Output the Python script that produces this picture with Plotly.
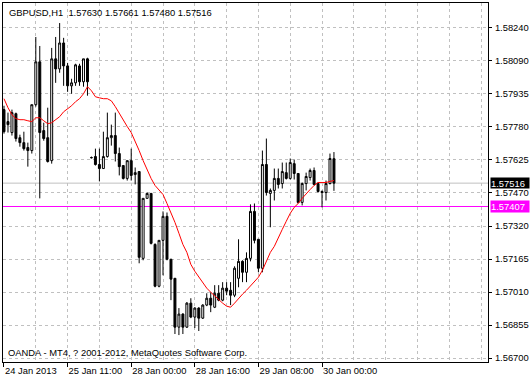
import plotly.graph_objects as go

# ---- data (GBPUSD H1) ----
bar_index = list(range(84))
opens = [1.57859, 1.57803, 1.57752, 1.57840, 1.57728, 1.57705, 1.57682, 1.57668, 1.57882, 1.58082,
         1.57761, 1.57728, 1.57621, 1.58096, 1.58049, 1.58170, 1.58063, 1.57970, 1.57984, 1.58063,
         1.57989, 1.58096, 1.57635, 1.57640, 1.57603, 1.57584, 1.57640, 1.57728, 1.57738, 1.57654,
         1.57598, 1.57538, 1.57621, 1.57556, 1.57570, 1.57165, 1.57445, 1.57468, 1.57230, 1.57035,
         1.57249, 1.57361, 1.57161, 1.57072, 1.56844, 1.56905, 1.56844, 1.56956, 1.56891, 1.56933,
         1.56886, 1.56947, 1.56979, 1.56937, 1.57002, 1.56970, 1.57026, 1.57016, 1.56993, 1.57072,
         1.57151, 1.57100, 1.57165, 1.57384, 1.57254, 1.57119, 1.57603, 1.57468, 1.57482, 1.57538,
         1.57514, 1.57565, 1.57538, 1.57607, 1.57561, 1.57426, 1.57514, 1.57542, 1.57575, 1.57514,
         1.57477, 1.57472, 1.57514, 1.57630]
highs = [1.57877, 1.57845, 1.57859, 1.57845, 1.57742, 1.57756, 1.57705, 1.57882, 1.58198, 1.58156,
         1.57798, 1.57868, 1.58147, 1.58198, 1.58263, 1.58194, 1.58077, 1.58003, 1.58073, 1.58073,
         1.58096, 1.58101, 1.57640, 1.57677, 1.57677, 1.57756, 1.57845, 1.57789, 1.57845, 1.57682,
         1.57598, 1.57621, 1.57677, 1.57589, 1.57570, 1.57445, 1.57472, 1.57468, 1.57235, 1.57249,
         1.57384, 1.57379, 1.57161, 1.57072, 1.56933, 1.56909, 1.56961, 1.56979, 1.56937, 1.56937,
         1.56951, 1.57002, 1.57007, 1.57040, 1.57040, 1.57054, 1.57054, 1.57054, 1.57128, 1.57254,
         1.57156, 1.57193, 1.57417, 1.57421, 1.57254, 1.57668, 1.57724, 1.57491, 1.57584, 1.57584,
         1.57612, 1.57612, 1.57631, 1.57626, 1.57561, 1.57519, 1.57565, 1.57584, 1.57589, 1.57519,
         1.57482, 1.57528, 1.57654, 1.57661]
lows = [1.57747, 1.57752, 1.57738, 1.57710, 1.57686, 1.57668, 1.57593, 1.57654, 1.57873, 1.57445,
        1.57714, 1.57612, 1.57607, 1.57984, 1.58031, 1.57970, 1.57942, 1.57933, 1.57970, 1.57970,
        1.57966, 1.57924, 1.57631, 1.57598, 1.57524, 1.57584, 1.57635, 1.57691, 1.57617, 1.57552,
        1.57533, 1.57528, 1.57528, 1.57510, 1.57142, 1.57156, 1.57445, 1.57230, 1.57030, 1.57030,
        1.57086, 1.57156, 1.56970, 1.56812, 1.56807, 1.56812, 1.56840, 1.56886, 1.56840, 1.56826,
        1.56882, 1.56942, 1.56914, 1.56933, 1.56965, 1.56965, 1.56993, 1.56947, 1.56984, 1.57030,
        1.57054, 1.57054, 1.57151, 1.57235, 1.57100, 1.57100, 1.57458, 1.57310, 1.57435, 1.57491,
        1.57491, 1.57533, 1.57533, 1.57533, 1.57421, 1.57412, 1.57482, 1.57528, 1.57505, 1.57472,
        1.57403, 1.57435, 1.57510, 1.57480]
closes = [1.57756, 1.57789, 1.57845, 1.57724, 1.57705, 1.57677, 1.57668, 1.57882, 1.58082, 1.57752,
          1.57724, 1.57617, 1.58096, 1.58049, 1.58170, 1.58063, 1.57970, 1.57984, 1.58068, 1.57989,
          1.58096, 1.57989, 1.57635, 1.57603, 1.57584, 1.57640, 1.57728, 1.57738, 1.57654, 1.57593,
          1.57538, 1.57621, 1.57552, 1.57565, 1.57170, 1.57445, 1.57468, 1.57235, 1.57035, 1.57249,
          1.57361, 1.57161, 1.57068, 1.56844, 1.56905, 1.56844, 1.56956, 1.56891, 1.56933, 1.56886,
          1.56947, 1.56979, 1.56947, 1.57002, 1.56970, 1.57026, 1.57012, 1.56993, 1.57119, 1.57151,
          1.57100, 1.57165, 1.57384, 1.57249, 1.57119, 1.57603, 1.57472, 1.57482, 1.57538, 1.57510,
          1.57570, 1.57538, 1.57612, 1.57561, 1.57426, 1.57514, 1.57547, 1.57575, 1.57510, 1.57477,
          1.57472, 1.57514, 1.57631, 1.57516]
ma = [1.57910, 1.57868, 1.57835, 1.57817, 1.57812, 1.57812, 1.57807, 1.57803, 1.57821, 1.57821,
      1.57807, 1.57793, 1.57798, 1.57812, 1.57826, 1.57849, 1.57863, 1.57877, 1.57896, 1.57910,
      1.57933, 1.57966, 1.57947, 1.57919, 1.57914, 1.57910, 1.57910, 1.57900, 1.57873, 1.57840,
      1.57807, 1.57780, 1.57752, 1.57714, 1.57668, 1.57621, 1.57575, 1.57538, 1.57505, 1.57486,
      1.57463, 1.57421, 1.57379, 1.57333, 1.57282, 1.57230, 1.57193, 1.57137, 1.57105, 1.57077,
      1.57049, 1.57026, 1.57007, 1.56989, 1.56970, 1.56956, 1.56942, 1.56937, 1.56956, 1.56979,
      1.56998, 1.57016, 1.57035, 1.57058, 1.57077, 1.57109, 1.57147, 1.57193, 1.57221, 1.57263,
      1.57300, 1.57338, 1.57375, 1.57403, 1.57421, 1.57445, 1.57468, 1.57486, 1.57505, 1.57519,
      1.57519, 1.57519, 1.57524, 1.57528]

date_tick_index = [0, 16, 32, 48, 64, 80]
date_tick_text = ["24 Jan 2013", "25 Jan 11:00", "28 Jan 00:00", "28 Jan 16:00", "29 Jan 08:00", "30 Jan 00:00"]
grid_x_index = [8, 16, 24, 32, 40, 48, 56, 64, 72, 80, 88, 96, 104, 112, 120]
price_tick_vals = [1.56700, 1.56854, 1.57008, 1.57162, 1.57316, 1.57470, 1.57624, 1.57778, 1.57932, 1.58086, 1.58240]
price_tick_text = ["1.56700", "1.56855", "1.57010", "1.57165", "1.57320", "1.57470", "1.57625", "1.57780", "1.57935", "1.58090", "1.58240"]
bid_price = 1.57516
level_price = 1.57407
header_text = "GBPUSD,H1  1.57630 1.57661 1.57480 1.57516"
footer_text = "OANDA - MT4, ? 2001-2012, MetaQuotes Software Corp."

FONT = "Liberation Sans"
FS = 9.4

fig = go.Figure()
fig.add_trace(go.Candlestick(
    x=bar_index, open=opens, high=highs, low=lows, close=closes,
    increasing=dict(fillcolor="white", line=dict(color="black", width=1)),
    decreasing=dict(fillcolor="black", line=dict(color="black", width=1)),
    whiskerwidth=0, showlegend=False, hoverinfo="skip"))
fig.add_trace(go.Scatter(x=bar_index, y=ma, mode="lines",
                         line=dict(color="#ff0000", width=1), showlegend=False, hoverinfo="skip"))

fig.add_shape(type="line", xref="paper", x0=0, x1=1, yref="y", y0=bid_price, y1=bid_price,
              line=dict(color="#c0c0c0", width=1), layer="below")
fig.add_shape(type="line", xref="paper", x0=0, x1=1, yref="y", y0=level_price, y1=level_price,
              line=dict(color="#ff00ff", width=1), layer="below")

fig.add_annotation(xref="paper", yref="y", x=1, y=bid_price, xanchor="left", yanchor="middle",
                   xshift=2, yshift=0, text="1.57516", showarrow=False, bgcolor="black",
                   font=dict(family=FONT, size=FS, color="white"), width=38, height=10,
                   align="left", borderpad=0)
fig.add_annotation(xref="paper", yref="y", x=1, y=level_price, xanchor="left", yanchor="middle",
                   xshift=2, text="1.57407", showarrow=False, bgcolor="#ff00ff",
                   font=dict(family=FONT, size=FS, color="white"), width=38, height=11,
                   align="left", borderpad=0)
fig.add_annotation(xref="paper", yref="paper", x=0, y=1, xanchor="left", yanchor="top",
                   xshift=4, yshift=-2, text=header_text, showarrow=False,
                   font=dict(family=FONT, size=FS, color="black"))
fig.add_annotation(xref="paper", yref="paper", x=0, y=0, xanchor="left", yanchor="bottom",
                   xshift=3, yshift=2, text=footer_text, showarrow=False,
                   font=dict(family=FONT, size=FS, color="black"))

fig.update_layout(
    width=531, height=379,
    margin=dict(l=2, r=41, t=2, b=17),
    paper_bgcolor="white", plot_bgcolor="white",
    font=dict(family=FONT, size=FS, color="black"),
    hovermode=False,
    xaxis=dict(range=[-0.25, 121.75], rangeslider=dict(visible=False),
               tickmode="array", tickvals=date_tick_index, ticktext=date_tick_text,
               ticks="outside", ticklen=4, tickcolor="black", ticklabelposition="outside right",
               showgrid=False, zeroline=False,
               showline=True, linecolor="black", linewidth=1, mirror=True,
               minor=dict(tickmode="array", tickvals=grid_x_index, showgrid=True,
                          gridcolor="#c0c0c0", griddash="3px,3px", gridwidth=1, ticks="")),
    yaxis=dict(range=[1.566814, 1.583565], side="right",
               tickmode="array", tickvals=price_tick_vals, ticktext=price_tick_text,
               ticks="outside", ticklen=3, tickcolor="black", ticklabelstandoff=1,
               showgrid=True, gridcolor="#c0c0c0", griddash="3px,3px", gridwidth=1,
               zeroline=False, showline=True, linecolor="black", linewidth=1, mirror=True),
)

fig.write_html("out.html")
